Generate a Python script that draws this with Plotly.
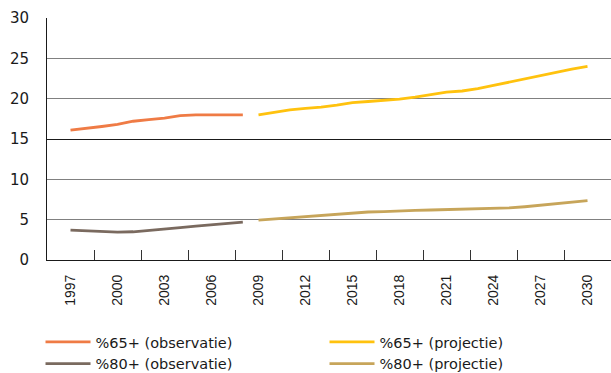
import plotly.graph_objects as go

years_obs = list(range(1997, 2009))
years_proj = list(range(2009, 2031))

obs65 = [16.1, 16.3, 16.55, 16.8, 17.2, 17.4, 17.6, 17.9, 18.0, 18.0, 18.0, 18.0]
obs80 = [3.7, 3.6, 3.5, 3.45, 3.5, 3.65, 3.85, 4.0, 4.2, 4.35, 4.5, 4.7]
proj65 = [18.0, 18.3, 18.6, 18.8, 18.95, 19.2, 19.5, 19.65, 19.8, 19.95, 20.2, 20.5,
          20.8, 20.95, 21.25, 21.65, 22.05, 22.5, 22.9, 23.3, 23.65, 24.0]
proj80 = [4.95, 5.1, 5.25, 5.4, 5.55, 5.7, 5.85, 5.95, 6.0, 6.1, 6.15, 6.2,
          6.25, 6.3, 6.3, 6.35, 6.45, 6.6, 6.8, 7.0, 7.2, 7.35]

label_years = list(range(1997, 2031, 3))
tick_marks = [y + 1.5 for y in range(1997, 2028, 3)]
y_ticks = [0, 5, 10, 15, 20, 25, 30]
dark_grid = [15, 30]

names = ["%65+ (observatie)", "%65+ (projectie)", "%80+ (observatie)", "%80+ (projectie)"]
colors = ["#EF7B45", "#FFC20E", "#7A6A5F", "#C7A55A"]

FONT = "DejaVu Sans"
xr = [1995.5, 2031.5]

fig = go.Figure()
fig.add_trace(go.Scatter(x=years_obs, y=obs65, mode="lines", name=names[0],
                         line=dict(color=colors[0], width=2.8), xaxis="x", yaxis="y"))
fig.add_trace(go.Scatter(x=years_proj, y=proj65, mode="lines", name=names[1],
                         line=dict(color=colors[1], width=2.8), xaxis="x2", yaxis="y2"))
fig.add_trace(go.Scatter(x=years_obs, y=obs80, mode="lines", name=names[2],
                         line=dict(color=colors[2], width=2.8), xaxis="x", yaxis="y"))
fig.add_trace(go.Scatter(x=years_proj, y=proj80, mode="lines", name=names[3],
                         line=dict(color=colors[3], width=2.8), xaxis="x2", yaxis="y2"))

fig.update_layout(
    width=611, height=373,
    margin=dict(l=47, r=0, t=18, b=113, autoexpand=False),
    paper_bgcolor="white", plot_bgcolor="white",
    font=dict(family=FONT, size=15, color="#1a1a1a"),
    showlegend=True,
    legend=dict(orientation="h", x=-0.0115, xanchor="left", y=-0.2725, yanchor="top",
                entrywidth=224, entrywidthmode="pixels", itemwidth=45,
                font=dict(family=FONT, size=14.5, color="#1a1a1a"),
                traceorder="normal", bgcolor="rgba(0,0,0,0)"),
    xaxis=dict(range=xr, tickmode="array", tickvals=label_years,
               ticktext=[str(v) for v in label_years], tickangle=-90,
               ticks="", showgrid=False, zeroline=False,
               showline=True, linecolor="#1a1a1a", linewidth=1,
               ticklabelstandoff=8,
               tickfont=dict(family="Liberation Sans", size=14, color="#1a1a1a")),
    xaxis2=dict(range=xr, overlaying="x", anchor="y2", tickmode="array",
                tickvals=tick_marks, ticks="inside", ticklen=10, tickwidth=1,
                tickcolor="#333333", showticklabels=False, showgrid=False,
                zeroline=False, showline=False),
    yaxis=dict(range=[0, 30], tickmode="array", tickvals=y_ticks, ticks="",
               showgrid=True, gridcolor="#808080", gridwidth=1, zeroline=False,
               showline=True, linecolor="#1a1a1a", linewidth=1,
               ticklabelstandoff=14,
               tickfont=dict(family=FONT, size=15, color="#1a1a1a")),
    yaxis2=dict(range=[0, 30], overlaying="y", anchor="x2", tickmode="array",
                tickvals=dark_grid, ticks="", showticklabels=False,
                showgrid=True, gridcolor="#1a1a1a", gridwidth=1,
                zeroline=False, showline=False),
)

fig.write_html("out.html", config={"displayModeBar": False},
               post_script="document.body.style.margin='0';document.body.style.overflow='hidden';")
